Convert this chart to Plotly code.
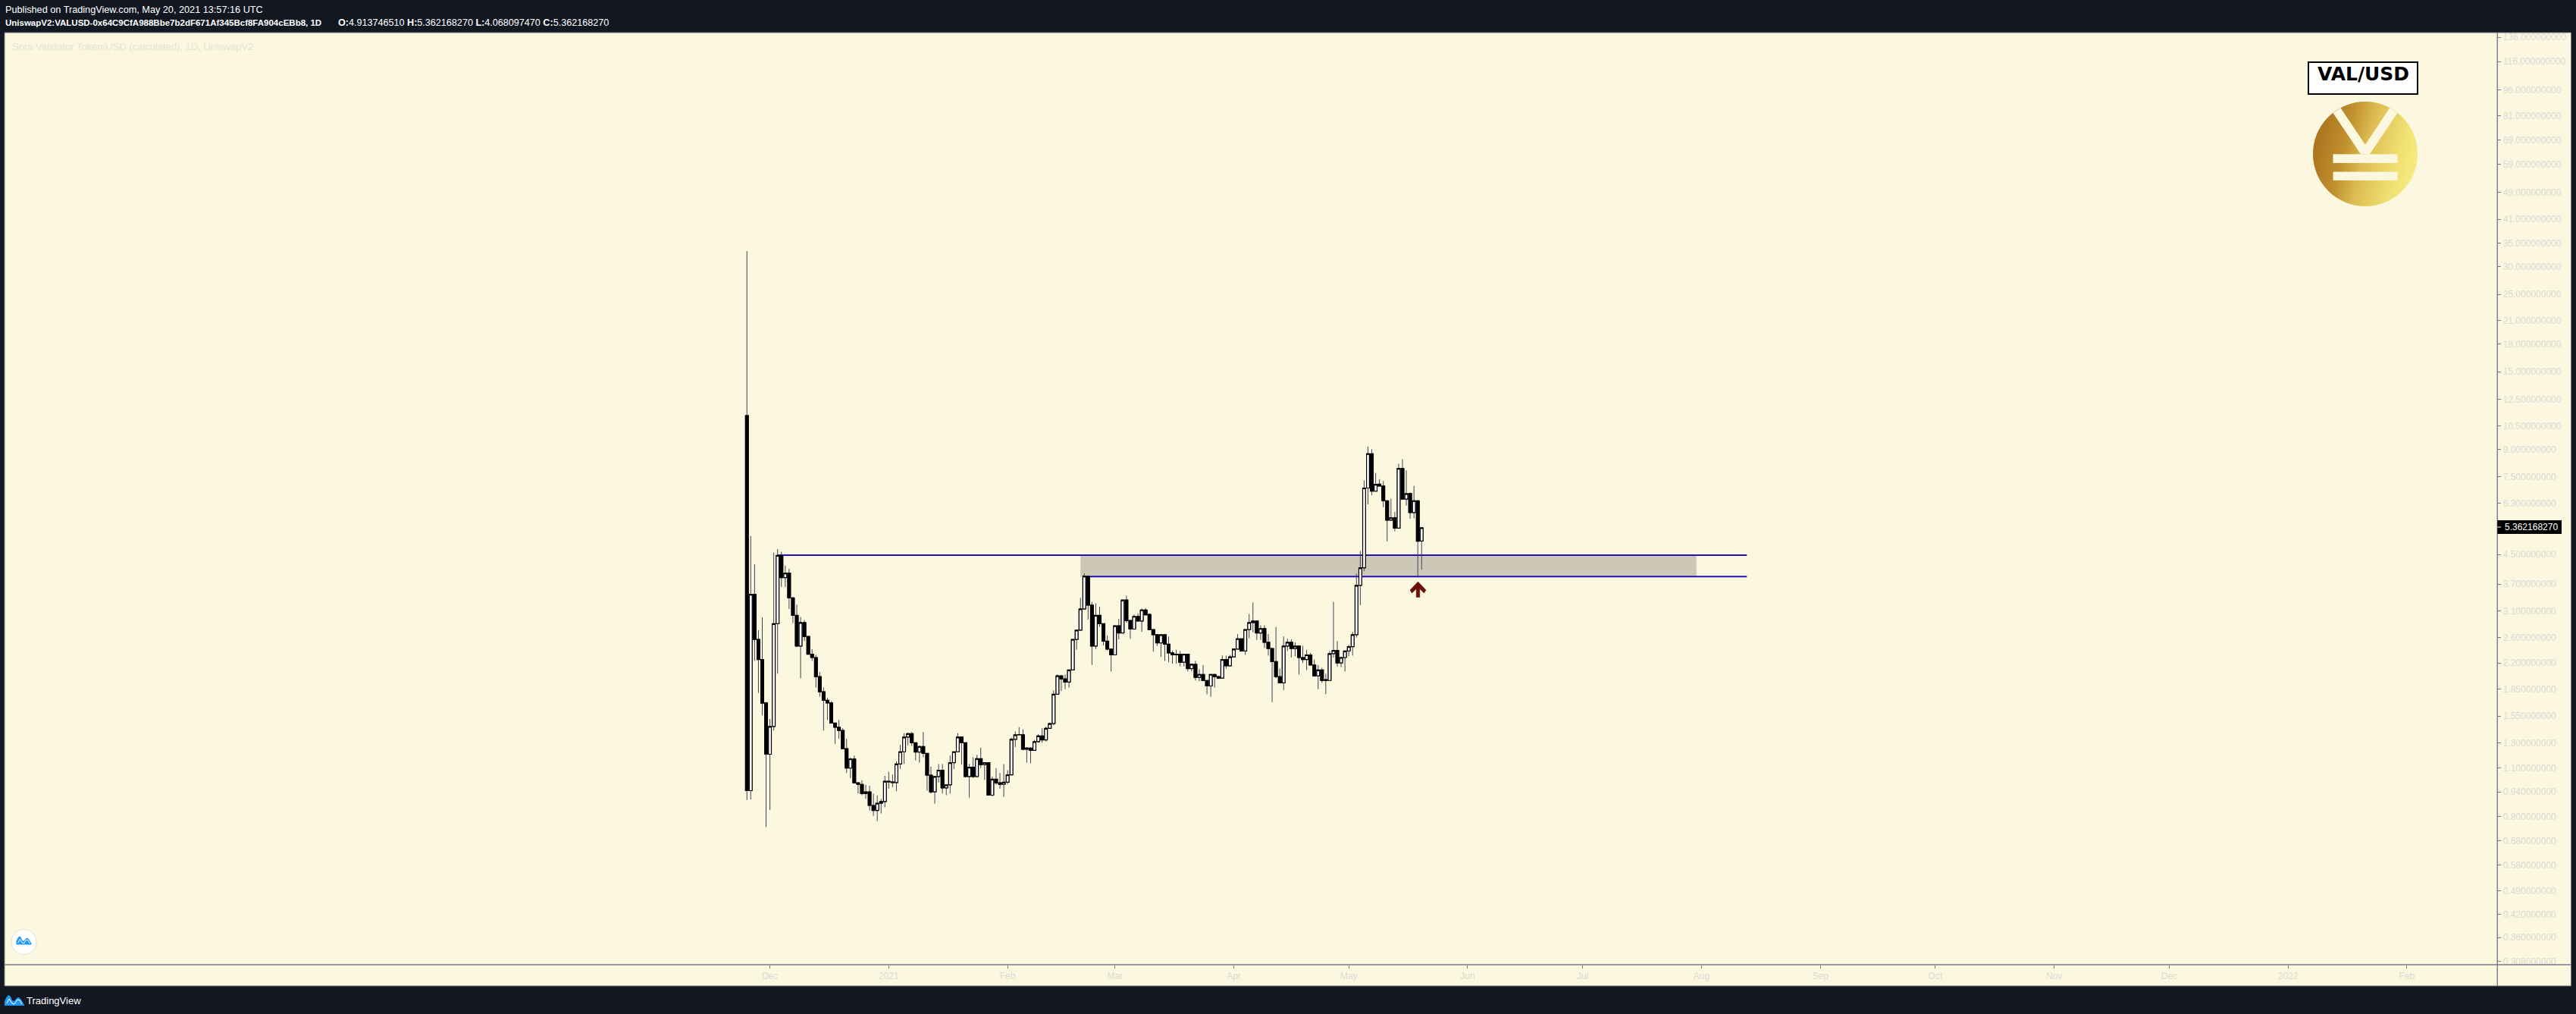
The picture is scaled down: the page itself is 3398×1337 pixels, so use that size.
import base64
import math
from datetime import datetime, timedelta

import plotly.graph_objects as go

# ---------- data ----------
first_candle = "2020-11-25"
opens = [11.24,0.948,3.46,2.57,2.25,1.69,1.205,1.447,2.85,4.47,3.86,3.98,3.38,3.01,2.46,2.87,2.62,2.33,2.28,2.01,1.82,1.72,1.69,1.48,1.44,1.41,1.25,1.10,1.168,0.998,0.988,0.93,0.94,0.86,0.832,0.872,0.882,1.008,1.004,1.00,1.13,1.225,1.35,1.38,1.30,1.223,1.268,1.212,1.05,0.94,1.04,1.085,0.965,0.985,1.14,1.225,1.35,1.30,1.04,1.106,1.04,1.17,1.125,1.14,0.92,1.022,0.998,0.988,1.002,1.052,1.33,1.37,1.37,1.245,1.255,1.237,1.31,1.36,1.325,1.43,1.475,1.79,2.02,1.98,1.94,2.10,2.57,2.73,3.14,3.90,3.22,2.46,3.01,2.85,2.54,2.41,2.32,2.81,2.68,3.33,2.91,2.75,2.99,2.90,3.12,3.03,2.74,2.65,2.51,2.65,2.49,2.35,2.33,2.33,2.21,2.33,2.12,2.18,2.00,2.04,1.96,1.89,2.04,2.01,1.99,2.25,2.16,2.29,2.41,2.58,2.38,2.74,2.87,2.90,2.68,2.76,2.52,2.42,2.22,2.01,1.93,2.46,2.52,2.42,2.46,2.28,2.25,2.32,2.17,2.02,2.10,1.97,1.96,2.34,2.39,2.20,2.28,2.38,2.45,2.65,3.67,4.12,6.97,8.74,6.83,7.15,7.06,6.41,5.64,5.73,5.35,7.93,6.48,6.72,5.93,6.41,4.913746510]
highs = [33.25,5.08,4.22,2.73,2.97,1.70,1.52,4.55,4.66,4.58,4.18,4.09,3.39,3.23,2.98,2.92,2.62,2.41,2.32,2.07,1.87,1.75,1.71,1.48,1.51,1.43,1.335,1.178,1.195,0.998,1.015,0.985,0.98,0.93,0.918,0.898,1.045,1.074,1.055,1.15,1.283,1.385,1.39,1.395,1.30,1.274,1.395,1.212,1.11,1.045,1.13,1.13,0.988,1.195,1.225,1.385,1.355,1.30,1.13,1.182,1.20,1.258,1.14,1.14,1.04,1.10,1.065,1.13,1.085,1.345,1.40,1.44,1.42,1.263,1.263,1.325,1.375,1.43,1.445,1.485,1.835,2.04,2.03,2.04,2.10,2.57,2.73,3.38,3.97,3.90,3.29,3.26,3.19,2.85,2.64,2.41,2.81,2.94,3.33,3.43,2.91,3.03,3.05,3.15,3.16,3.05,2.74,2.65,2.65,2.65,2.62,2.39,2.40,2.38,2.33,2.33,2.19,2.23,2.11,2.17,1.96,2.04,2.04,2.02,2.31,2.31,2.32,2.41,2.66,2.58,2.74,3.04,3.28,2.91,2.82,2.82,2.66,2.42,2.79,2.12,2.62,2.58,2.57,2.52,2.46,2.46,2.40,2.35,2.25,2.17,2.13,2.05,2.38,3.29,2.54,2.28,2.38,2.48,2.70,3.96,4.60,7.33,9.16,9.00,7.70,7.39,7.30,6.41,6.50,5.95,8.18,8.43,7.83,6.77,7.07,6.41,5.362168270]
lows = [0.891,0.895,2.23,1.804,1.557,0.746,0.835,1.41,2.05,3.63,3.63,3.14,2.86,2.44,1.99,2.54,2.33,2.23,1.87,1.76,1.41,1.51,1.475,1.29,1.335,1.245,1.065,1.03,0.993,0.93,0.92,0.898,0.832,0.803,0.776,0.816,0.85,0.96,0.97,0.945,1.094,1.13,1.278,1.274,1.157,1.14,1.182,0.948,0.93,0.87,1.00,0.93,0.92,0.93,1.094,1.223,1.125,1.035,0.905,1.03,1.04,1.10,1.017,0.918,0.913,0.985,0.96,0.91,0.988,1.05,1.263,1.368,1.237,1.14,1.135,1.233,1.30,1.30,1.31,1.435,1.46,1.785,1.83,1.85,1.87,2.10,2.40,2.73,3.12,2.93,2.17,2.41,2.79,2.47,2.39,2.08,2.32,2.57,2.68,2.87,2.58,2.74,2.89,2.70,3.02,2.73,2.37,2.46,2.29,2.23,2.21,2.19,2.19,2.15,2.15,2.08,2.08,1.96,1.95,1.95,1.79,1.76,1.87,1.985,1.99,2.12,2.15,2.29,2.41,2.38,2.32,2.59,2.69,2.56,2.56,2.43,2.31,1.70,1.99,1.93,1.84,2.38,2.28,2.30,2.04,2.20,2.10,2.17,2.02,1.85,1.93,1.79,1.96,2.28,2.15,2.14,2.08,2.30,2.31,2.60,3.22,4.03,6.26,6.65,6.83,7.06,6.14,4.90,5.64,5.24,5.35,6.48,6.21,5.69,5.71,3.87,4.068097470]
closes = [0.948,3.46,2.57,2.25,1.688,1.205,1.447,2.85,4.47,3.86,3.98,3.38,3.01,2.46,2.87,2.62,2.33,2.28,2.01,1.82,1.72,1.69,1.48,1.44,1.41,1.25,1.10,1.168,0.998,0.988,0.93,0.94,0.86,0.832,0.872,0.882,1.008,1.004,1.00,1.13,1.225,1.35,1.38,1.30,1.223,1.268,1.212,1.05,0.94,1.04,1.085,0.965,0.985,1.14,1.225,1.35,1.30,1.04,1.106,1.04,1.17,1.125,1.14,0.92,1.022,0.998,0.988,1.002,1.052,1.33,1.37,1.372,1.245,1.255,1.237,1.31,1.36,1.325,1.43,1.475,1.79,2.02,1.98,1.94,2.10,2.57,2.73,3.14,3.90,3.22,2.46,3.01,2.85,2.54,2.41,2.32,2.81,2.68,3.33,2.91,2.75,2.99,2.90,3.12,3.02,2.74,2.65,2.51,2.65,2.49,2.35,2.32,2.32,2.21,2.33,2.12,2.18,2.00,2.04,1.96,1.89,2.04,2.01,1.99,2.25,2.16,2.29,2.41,2.58,2.38,2.74,2.87,2.90,2.68,2.76,2.52,2.42,2.22,2.01,1.93,2.46,2.52,2.42,2.46,2.28,2.25,2.32,2.17,2.02,2.10,1.96,1.96,2.34,2.39,2.20,2.28,2.38,2.45,2.65,3.67,4.12,6.97,8.74,6.83,7.14,7.06,6.41,5.64,5.73,5.35,7.93,6.48,6.72,5.93,6.41,4.91,5.362168270]

y_tick_values = [136,116,96,81,69,59,49,41,35,30,25,21,18,15,12.5,10.5,9,7.5,6.3,4.5,3.7,3.1,2.6,2.2,1.85,1.55,1.3,1.1,0.94,0.8,0.68,0.58,0.49,0.42,0.36,0.308]
x_tick_dates = ["2020-12-01","2021-01-01","2021-02-01","2021-03-01","2021-04-01","2021-05-01","2021-06-01","2021-07-01","2021-08-01","2021-09-01","2021-10-01","2021-11-01","2021-12-01","2022-01-01","2022-02-01"]
x_tick_text = ["Dec","2021","Feb","Mar","Apr","May","Jun","Jul","Aug","Sep","Oct","Nov","Dec","2022","Feb"]

last_price = 5.362168270
zone_top = 4.48
zone_bottom = 3.89
level_top_start = "2020-12-03"
level_bottom_start = "2021-02-21"
level_end = "2021-08-12 20:00"
zone_start = "2021-02-20"
zone_end = "2021-07-30 16:00"

# ---------- layout constants ----------
W, H = 3398, 1337
PLOT_L, PLOT_R, PLOT_T, PLOT_B = 7, 3294.3, 43, 1272
BG, PANEL, AXIS, FAINT = "#131722", "#fcf7df", "#787b86", "#dadad4"
BLUE, TV_BLUE = "#2210c0", "#2196f3"


def px(x):
    return x / W


def py(y):
    return 1 - y / H


def path(points, close=True):
    s = "M " + " L ".join(f"{px(a):.6f},{py(b):.6f}" for a, b in points)
    return s + (" Z" if close else "")


def tv_logo(x, y, s):
    body = [(0, 14), (0, 8), (3, 2), (5.5, 0), (8, 2), (10, 7), (13, 8), (16, 4), (19, 3), (22, 6), (26, 13), (26, 14)]
    wave = [(3, 11), (6, 5), (10, 11), (13, 12), (17, 6), (20, 7), (23, 12)]
    return (
        dict(type="path", path=path([(x + a * s, y + b * s) for a, b in body]), xref="paper", yref="paper",
             fillcolor=TV_BLUE, line=dict(width=0), layer="above"),
        dict(type="path", path=path([(x + a * s, y + b * s) for a, b in wave], close=False), xref="paper", yref="paper",
             line=dict(color="#ffffff", width=1), layer="above"),
    )


dates = [datetime.fromisoformat(first_candle) + timedelta(days=i) for i in range(len(opens))]
body_highs = [max(a, b) for a, b in zip(opens, closes)]
body_lows = [min(a, b) for a, b in zip(opens, closes)]

fig = go.Figure()
fig.add_trace(go.Candlestick(
    x=dates, open=opens, high=highs, low=lows, close=closes, name="wicks", hoverinfo="skip",
    increasing=dict(line=dict(color="#3f4454", width=1), fillcolor="#ffffff"),
    decreasing=dict(line=dict(color="#3f4454", width=1), fillcolor="#000000"),
))
fig.add_trace(go.Candlestick(
    x=dates, open=opens, high=body_highs, low=body_lows, close=closes, name="VAL/USD",
    increasing=dict(line=dict(color="#000000", width=1.2), fillcolor="#ffffff"),
    decreasing=dict(line=dict(color="#000000", width=1.2), fillcolor="#000000"),
))

PX_PER_DAY = 5.057
dec1 = datetime(2020, 12, 1)
DEC1_PX = 1015.6
x_range = [dec1 + timedelta(days=(PLOT_L - DEC1_PX) / PX_PER_DAY), dec1 + timedelta(days=(PLOT_R - DEC1_PX) / PX_PER_DAY)]
y_price = lambda y: 4.5 * math.exp((731 - y) / 200)
y_range = [math.log10(y_price(PLOT_B)), math.log10(y_price(PLOT_T))]

ARROW = "#6b0f0a"
shapes = [
    dict(type="rect", xref="paper", yref="paper", x0=px(6), x1=px(3391.5), y0=py(43), y1=py(1300),
         fillcolor=PANEL, line=dict(color=AXIS, width=1), layer="below"),
    dict(type="rect", xref="x", yref="y", x0=zone_start, x1=zone_end, y0=zone_bottom, y1=zone_top,
         fillcolor="#cdc7b5", line=dict(width=0), layer="below"),
    dict(type="line", xref="x", yref="y", x0=level_top_start, x1=level_end, y0=zone_top, y1=zone_top,
         line=dict(color=BLUE, width=2), layer="below"),
    dict(type="line", xref="x", yref="y", x0=level_bottom_start, x1=level_end, y0=zone_bottom, y1=zone_bottom,
         line=dict(color=BLUE, width=2), layer="below"),
    dict(type="line", xref="paper", yref="paper", x0=px(6), x1=px(3391.5), y0=py(1272), y1=py(1272),
         line=dict(color=AXIS, width=1.4), layer="above"),
    dict(type="line", xref="paper", yref="paper", x0=px(3294.3), x1=px(3294.3), y0=py(43), y1=py(1300),
         line=dict(color=AXIS, width=1.4), layer="above"),
    # arrow
    dict(type="path", xref="paper", yref="paper",
         path=path([(1870.5, 767), (1881, 778), (1878.5, 782), (1872.8, 776.5), (1872.8, 787.5), (1868.2, 787.5),
                    (1868.2, 776.5), (1862.5, 782), (1860, 778)]),
         fillcolor=ARROW, line=dict(color=ARROW, width=0.5), layer="above"),
    # last price tag
    dict(type="rect", xref="paper", yref="paper", x0=px(3294.3), x1=px(3379), y0=py(686), y1=py(704),
         fillcolor="#000000", line=dict(width=0), layer="above"),
    dict(type="line", xref="paper", yref="paper", x0=px(3294.3), x1=px(3299), y0=py(695), y1=py(695),
         line=dict(color="#ffffff", width=1), layer="above"),
    # VAL/USD box
    dict(type="rect", xref="paper", yref="paper", x0=px(3045), x1=px(3189), y0=py(82), y1=py(124),
         fillcolor="#ffffff", line=dict(color="#000000", width=2), layer="above"),
    # TradingView badge
    dict(type="circle", xref="paper", yref="paper", x0=px(15), x1=px(48), y0=py(1225.5), y1=py(1258.5),
         fillcolor="#ffffff", line=dict(color="#e6e2d4", width=1), layer="above"),
]
shapes += tv_logo(21.5, 1234.5, 0.78)
shapes += tv_logo(6, 1312, 1.0)

FONT = "Liberation Sans"
annotations = [
    dict(x=px(6), y=py(13), text="Published on TradingView.com, May 20, 2021 13:57:16 UTC",
         font=dict(color="#ffffff", size=12.7, family=FONT)),
    dict(x=px(6), y=py(30), text="<b>UniswapV2:VALUSD-0x64C9CfA988Bbe7b2dF671Af345Bcf8FA904cEBb8, 1D</b>",
         font=dict(color="#ffffff", size=11.5, family=FONT)),
    dict(x=px(445), y=py(30),
         text="<b>O:</b>4.913746510 <b>H:</b>5.362168270 <b>L:</b>4.068097470 <b>C:</b>5.362168270",
         font=dict(color="#ffffff", size=12.6, family=FONT)),
    dict(x=px(15), y=py(61), text="Sora Validator Token/USD (calculated), 1D, UniswapV2",
         font=dict(color="#e6e3d8", size=13, family=FONT)),
    dict(x=px(3303), y=py(695), text=f"{last_price:.9f}", font=dict(color="#ffffff", size=12, family=FONT)),
    dict(x=px(3117), y=py(98), text="<b>VAL/USD</b>", xanchor="center",
         font=dict(color="#000000", size=25, family="DejaVu Sans")),
    dict(x=px(34), y=py(1319), text="TradingView", font=dict(color="#ffffff", size=13, family=FONT)),
]
for a in annotations:
    a.update(xref="paper", yref="paper", showarrow=False, yanchor="middle", borderpad=0)
    a.setdefault("xanchor", "left")

svg = """<svg xmlns="http://www.w3.org/2000/svg" viewBox="0 0 416 416" width="416" height="416">
<defs><linearGradient id="g" x1="0" y1="0.35" x2="1" y2="0.6">
<stop offset="0" stop-color="#a9711c"/><stop offset="0.3" stop-color="#c08f2e"/>
<stop offset="0.5" stop-color="#dcbc52"/><stop offset="0.8" stop-color="#f0df70"/><stop offset="1" stop-color="#f6ec82"/></linearGradient></defs>
<circle cx="208" cy="208" r="208" fill="url(#g)"/>
<polygon points="80,45 190,209 226,209 336,45 305,25 208,171 110,25" fill="#fcf7df"/>
<rect x="80" y="209" width="256" height="35" fill="#fcf7df"/>
<rect x="80" y="279" width="256" height="34" fill="#fcf7df"/>
</svg>"""
logo_uri = "data:image/svg+xml;base64," + base64.b64encode(svg.encode()).decode()

fig.update_layout(
    width=W, height=H, margin=dict(l=0, r=0, t=0, b=0, pad=0), autosize=False,
    paper_bgcolor=BG, plot_bgcolor=PANEL, showlegend=False, boxgap=0.25, boxgroupgap=0,
    shapes=shapes, annotations=annotations,
    images=[dict(source=logo_uri, xref="paper", yref="paper", x=px(3051), y=py(134), sizex=px(138), sizey=138 / H,
                 xanchor="left", yanchor="top", sizing="stretch", layer="above")],
    xaxis=dict(domain=[px(PLOT_L), px(PLOT_R)], range=x_range, type="date", rangeslider=dict(visible=False),
               automargin=False, showgrid=False, zeroline=False, showline=False, tickmode="array",
               tickvals=x_tick_dates, ticktext=x_tick_text, ticks="outside", ticklen=4, tickcolor=AXIS, tickwidth=1,
               tickfont=dict(color=FAINT, size=12, family=FONT)),
    yaxis=dict(domain=[py(PLOT_B), py(PLOT_T)], range=y_range, type="log", side="right", showgrid=False,
               automargin=False, zeroline=False, showline=False, tickmode="array", tickvals=y_tick_values,
               ticktext=[f"{v:.9f}" for v in y_tick_values], ticks="outside", ticklen=4, tickcolor=AXIS, tickwidth=1,
               tickfont=dict(color=FAINT, size=12, family=FONT)),
)

fig.write_html("out.html", config=dict(displayModeBar=False),
               post_script=("document.documentElement.style.cssText='margin:0;padding:0;height:1337px;overflow:hidden;background:#131722';"
                            "document.body.style.cssText='margin:0;padding:0;height:1337px;overflow:hidden;background:#131722';"))
